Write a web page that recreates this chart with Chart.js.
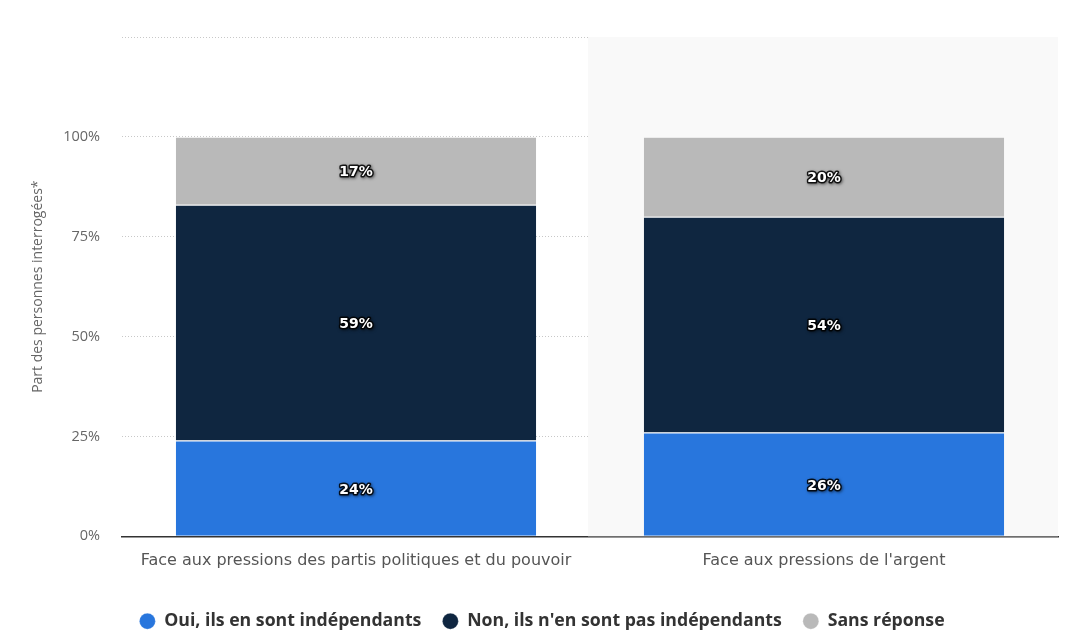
<!DOCTYPE html>
<html>
<head>
<meta charset="utf-8">
<script src="https://cdn.jsdelivr.net/npm/chart.js@4.4.1/dist/chart.umd.min.js"></script>
<style>
  html, body { margin: 0; padding: 0; background: #fff; }
  #wrap { width: 1074px; height: 643px; position: relative; }
</style>
</head>
<body>
<div id="wrap"><canvas id="myChart"></canvas></div>
<script>
// Données
const categories = ['Face aux pressions des partis politiques et du pouvoir', "Face aux pressions de l'argent"]
const seriesNames = ['Oui, ils en sont indépendants', "Non, ils n'en sont pas indépendants", 'Sans réponse']
const ouiValues = [24, 26]
const nonValues = [59, 54]
const sansValues = [17, 20]
const yTicks = [0, 25, 50, 75, 100, 125]

const colors = ['#2876dd', '#0f2640', '#b9b9b9']

// fond gris clair sur la deuxième catégorie
const highlight = {
    id: 'highlight',
    beforeDatasetsDraw(chart) {
        const { ctx, chartArea, scales } = chart
        const x = scales.x
        const step = x.getPixelForValue(1) - x.getPixelForValue(0)
        const cx = x.getPixelForValue(1)
        ctx.save()
        ctx.fillStyle = '#f9f9f9'
        ctx.fillRect(cx - step / 2 - 2, chartArea.top, step / 2 + 2 + (chartArea.right - cx), chartArea.bottom - chartArea.top)
        ctx.restore()
    }
}

// étiquettes blanches au centre de chaque segment
const labels = {
    id: 'labels',
    afterDatasetsDraw(chart) {
        const { ctx } = chart
        ctx.save()
        ctx.font = 'bold 14px "DejaVu Sans", sans-serif'
        ctx.textAlign = 'center'
        ctx.textBaseline = 'middle'
        chart.data.datasets.forEach((ds, i) => {
            const meta = chart.getDatasetMeta(i)
            meta.data.forEach((bar, j) => {
                const txt = ds.data[j] + '%'
                const y = (bar.y + bar.base) / 2 + 2
                ctx.lineJoin = 'round'
                ctx.lineWidth = 3
                ctx.strokeStyle = 'rgba(0,0,0,0.85)'
                ctx.shadowColor = 'rgba(0,0,0,0.6)'
                ctx.shadowBlur = 3
                ctx.shadowOffsetX = 1
                ctx.shadowOffsetY = 1
                ctx.strokeText(txt, bar.x, y)
                ctx.shadowColor = 'transparent'
                ctx.fillStyle = '#fff'
                ctx.fillText(txt, bar.x, y)
            })
        })
        ctx.restore()
    }
}

const ctx = document.getElementById('myChart').getContext('2d')
const chart = new Chart(ctx, {
    type: 'bar',
    data: {
        labels: categories,
        datasets: [
            { label: seriesNames[0], data: ouiValues, backgroundColor: colors[0] },
            { label: seriesNames[1], data: nonValues, backgroundColor: colors[1] },
            { label: seriesNames[2], data: sansValues, backgroundColor: colors[2] }
        ].map(d => Object.assign(d, {
            borderColor: '#ffffff',
            borderWidth: { top: 1, bottom: 0, left: 0, right: 0 },
            borderSkipped: false,
            barPercentage: 0.77,
            categoryPercentage: 1
        }))
    },
    options: {
        responsive: true,
        maintainAspectRatio: false,
        animation: false,
        layout: { padding: { left: 26, right: 16, top: 37, bottom: 3 } },
        plugins: {
            tooltip: { enabled: false },
            legend: {
                position: 'bottom',
                labels: {
                    usePointStyle: true,
                    pointStyle: 'circle',
                    boxWidth: 16,
                    boxHeight: 11.3,
                    padding: 21,
                    color: '#333',
                    font: { family: '"Open Sans", sans-serif', size: 17.7, weight: '700' }
                }
            }
        },
        scales: {
            x: {
                stacked: true,
                grid: { display: false, drawTicks: false },
                border: { display: true, color: '#333', width: 1.5 },
                ticks: {
                    padding: 15,
                    color: '#555',
                    font: { family: '"DejaVu Sans", sans-serif', size: 16 }
                },
                afterFit: (scale) => { scale.height = 55 }
            },
            y: {
                stacked: true,
                min: 0,
                max: 125,
                afterBuildTicks: (scale) => { scale.ticks = yTicks.map(v => ({ value: v })) },
                grid: {
                    color: '#c8c8c8',
                    drawTicks: false,
                    lineWidth: 1
                },
                border: { display: false, dash: [1, 2] },
                ticks: {
                    padding: 22,
                    color: '#666',
                    font: { family: '"Open Sans", sans-serif', size: 14.5 },
                    callback: (v) => v === 125 ? '' : v + '%'
                },
                title: {
                    display: true,
                    text: 'Part des personnes interrogées*',
                    color: '#666',
                    padding: 4,
                    font: { family: '"Open Sans", sans-serif', size: 14 }
                },
                afterFit: (scale) => { scale.width = 96 }
            }
        }
    },
    plugins: [highlight, labels]
})
</script>
</body>
</html>
